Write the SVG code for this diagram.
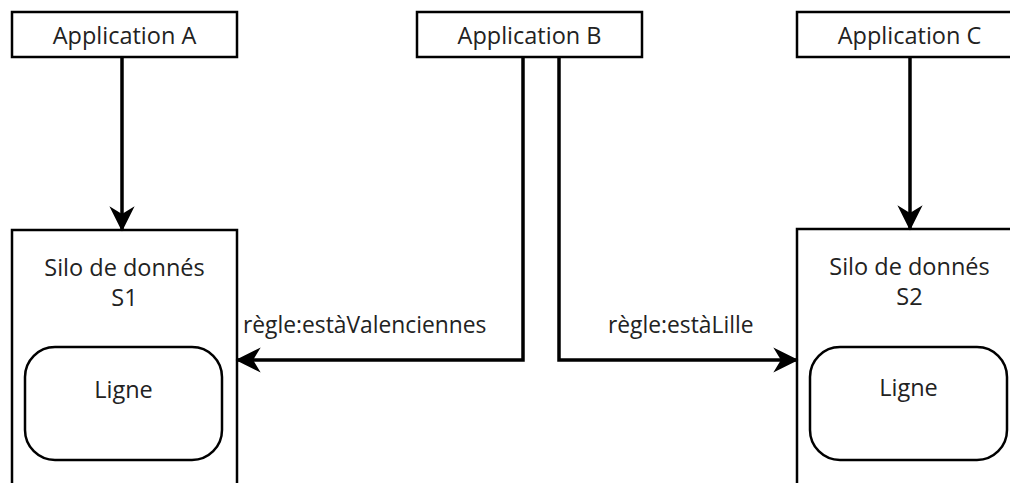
<svg xmlns="http://www.w3.org/2000/svg" width="1010" height="483" viewBox="0 0 1010 483">
<defs>
<style>
.box{fill:#fff;stroke:#000;stroke-width:2.5}
.inner{fill:#fff;stroke:#000;stroke-width:2.5}
.t{font-family:"Open Sans","Lato",sans-serif;font-size:23.5px;fill:#222;text-anchor:middle}
.lbl{font-family:"Open Sans","Lato",sans-serif;font-size:22.8px;fill:#222}
.c{fill:none;stroke:#000;stroke-width:3.5}
</style>
<marker id="ah" viewBox="0 0 20 20" refX="18" refY="10" markerWidth="7.2" markerHeight="7.2" markerUnits="strokeWidth" orient="auto">
<path d="M0,0 L20,10 L0,20 L6,10 Z" fill="#000"/>
</marker>
</defs>
<rect width="1010" height="483" fill="#fff"/>
<g id="appA"><rect class="box" x="12" y="12" width="225" height="45"/><text class="t" x="124.5" y="44">Application A</text></g>
<g id="appB"><rect class="box" x="417" y="12" width="225" height="45"/><text class="t" x="529.5" y="44">Application B</text></g>
<g id="appC"><rect class="box" x="797" y="12" width="225" height="45"/><text class="t" x="909.5" y="44">Application C</text></g>
<g id="s1"><rect class="box" x="12" y="230" width="225" height="270"/><text class="t" x="124.5" y="276">Silo de donnés</text><text class="t" x="124.5" y="306">S1</text>
<g id="ligne1"><rect class="inner" x="25" y="347" width="197" height="113" rx="30"/><text class="t" x="123.5" y="398">Ligne</text></g></g>
<g id="s2"><rect class="box" x="797" y="229" width="225" height="270"/><text class="t" x="909.5" y="275">Silo de donnés</text><text class="t" x="909.5" y="305">S2</text>
<g id="ligne2"><rect class="inner" x="810" y="347" width="197" height="113" rx="30"/><text class="t" x="908.5" y="396">Ligne</text></g></g>
<g id="connectors">
<path class="c" d="M122,57 V229" marker-end="url(#ah)"/>
<path class="c" d="M910,57 V228" marker-end="url(#ah)"/>
<path class="c" d="M523,57 V360 H238" marker-end="url(#ah)"/>
<path class="c" d="M559,57 V360 H796" marker-end="url(#ah)"/>
<text class="lbl" x="243" y="333">règle:estàValenciennes</text>
<text class="lbl" x="608" y="333">règle:estàLille</text>
</g>
</svg>
